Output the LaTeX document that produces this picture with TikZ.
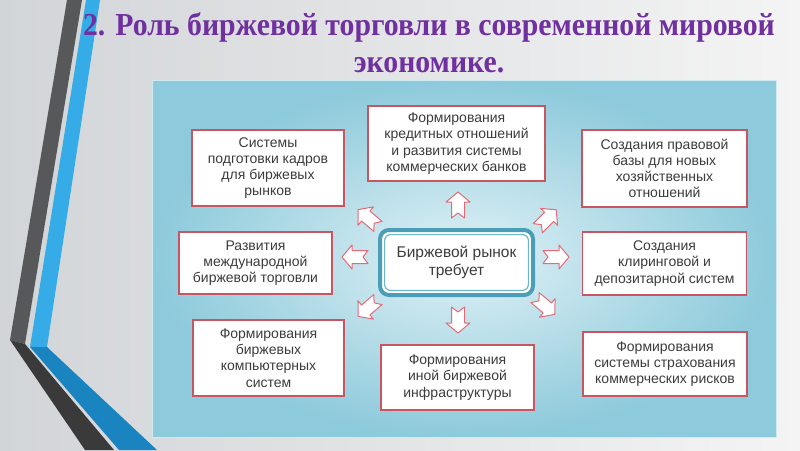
\documentclass[tikz,border=0pt]{standalone}
\usepackage{fontspec}
\setmainfont{Liberation Sans}
\newfontfamily\titlefont[FakeStretch=0.93]{Liberation Serif}
\definecolor{slidelight}{HTML}{F4F4F4}
\definecolor{slidedark}{HTML}{D2D5D8}
\definecolor{stripegray}{HTML}{56585A}
\definecolor{stripedark}{HTML}{3A3A3B}
\definecolor{stripeblue}{HTML}{35ACE8}
\definecolor{stripedeep}{HTML}{1A84C0}
\definecolor{titlepurple}{HTML}{7030A0}
\definecolor{panellight}{HTML}{E0F1F6}
\definecolor{panelblue}{HTML}{8DCADB}
\definecolor{boxred}{HTML}{C95560}
\definecolor{arrowred}{HTML}{E36B77}
\definecolor{hubteal}{HTML}{4A9FB6}
\definecolor{hubinner}{HTML}{6DB6C8}
\definecolor{textgray}{HTML}{3C3C3C}
\begin{document}
\begin{tikzpicture}
    [
    x=1pt,y=-1pt,
    box/.style={draw=boxred,line width=1.1pt,fill=white,align=center,text=textgray,inner sep=0pt,font=\fontsize{14}{16.2}\selectfont},
    hub/.style={draw=hubteal,line width=4pt,rounded corners=9pt,fill=white,align=center,text=textgray,inner sep=0pt,outer sep=0pt,font=\fontsize{15.5}{18}\selectfont},
    titletext/.style={align=center,text=titlepurple,inner sep=0pt,font=\titlefont\bfseries\fontsize{32}{37}\selectfont},
    pics/blockarrow/.style={code={
      \draw[draw=arrowred,fill=white,line width=1pt,line join=round]
        (-13,6.5) -- (3,6.5) -- (3,12) -- (13,0) -- (3,-12) -- (3,-6.5) -- (-13,-6.5) -- (-8,0) -- cycle;
    }}
    ]
    \useasboundingbox (0,0) rectangle (800,450);
    \shade[left color=slidedark,right color=slidelight] (0,0) rectangle (800,450);
    \fill[stripegray] (67,0) -- (82,0) -- (25,344) -- (10,340) -- cycle;
    \fill[stripedark] (10,340) -- (25,344) -- (114,450) -- (85,450) -- cycle;
    \fill[stripeblue] (86,0) -- (100,0) -- (47,347) -- (30,347) -- cycle;
    \fill[stripedeep] (30,347) -- (47,347) -- (157,450) -- (119,450) -- cycle;
    \node (title) at (429,43) [titletext] {2. Роль биржевой торговли в современной мировой\\экономике.};
    \shade[inner color=panellight,outer color=panelblue] (152,80) rectangle (776,437);
    \draw[white!60!panelblue,line width=0.8pt] (152,80) rectangle (776,437);
    \node (centre) at (456.5,262.5) [hub,minimum width=153,minimum height=65] {Биржевой рынок\\требует};
    \draw[hubinner,line width=1.2pt,rounded corners=6pt] ([shift={(4.6,4.6)}]centre.north west) rectangle ([shift={(-4.6,-4.6)}]centre.south east);
    \node (staff) at (268,168) [box,minimum width=152,minimum height=76] {Системы\\подготовки кадров\\для биржевых\\рынков};
    \node (credit) at (456.5,143.5) [box,minimum width=177,minimum height=75] {Формирования\\кредитных отношений\\и развития системы\\коммерческих банков};
    \node (law) at (664.5,168.5) [box,minimum width=165,minimum height=77] {Создания правовой\\базы для новых\\хозяйственных\\отношений};
    \node (trade) at (255.5,263) [box,minimum width=153,minimum height=62] {Развития\\международной\\биржевой торговли};
    \node (clearing) at (664.5,263.5) [box,minimum width=164,minimum height=63] {Создания\\клиринговой и\\депозитарной систем};
    \node (computer) at (268.5,358) [box,minimum width=151,minimum height=76] {Формирования\\биржевых\\компьютерных\\систем};
    \node (infra) at (457.5,377.5) [box,minimum width=153,minimum height=65] {Формирования\\иной биржевой\\инфраструктуры};
    \node (risk) at (665,364) [box,minimum width=164,minimum height=64] {Формирования\\системы страхования\\коммерческих рисков};
    \pic[rotate=90] at (458,205) {blockarrow};
    \pic[rotate=-90] at (458,320) {blockarrow};
    \pic[rotate=180] at (355,257) {blockarrow};
    \pic[rotate=0] at (556,257) {blockarrow};
    \pic[rotate=140] at (368,218) {blockarrow};
    \pic[rotate=-140] at (368,308) {blockarrow};
    \pic[rotate=45] at (547,219) {blockarrow};
    \pic[rotate=-40] at (545,306) {blockarrow};
  \end{tikzpicture}
\end{document}
